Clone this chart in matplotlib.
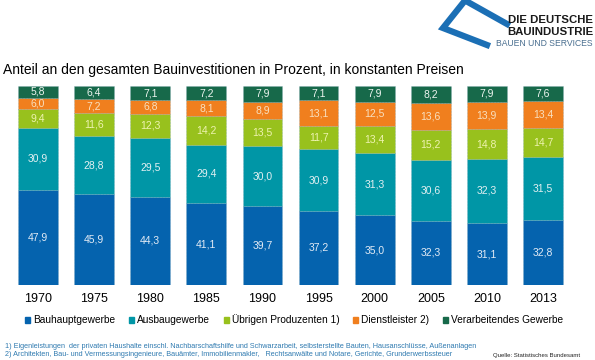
import numpy as np
import matplotlib.pyplot as plt
from matplotlib.patches import Patch

plt.rcParams['font.family'] = ['Liberation Sans', 'DejaVu Sans']

# Daten
years = ['1970', '1975', '1980', '1985', '1990', '1995', '2000', '2005', '2010', '2013']
series_names = ['Bauhauptgewerbe', 'Ausbaugewerbe', 'Übrigen Produzenten 1)',
                'Dienstleister 2)', 'Verarbeitendes Gewerbe']
bauhaupt = [47.9, 45.9, 44.3, 41.1, 39.7, 37.2, 35.0, 32.3, 31.1, 32.8]
ausbau = [30.9, 28.8, 29.5, 29.4, 30.0, 30.9, 31.3, 30.6, 32.3, 31.5]
uebrige = [9.4, 11.6, 12.3, 14.2, 13.5, 11.7, 13.4, 15.2, 14.8, 14.7]
dienst = [6.0, 7.2, 6.8, 8.1, 8.9, 13.1, 12.5, 13.6, 13.9, 13.4]
verarb = [5.8, 6.4, 7.1, 7.2, 7.9, 7.1, 7.9, 8.2, 7.9, 7.6]

colors = ['#0563ae', '#0096a6', '#98c11d', '#f07f1e', '#17694a']
text_colors = ['#e3ebf5', '#e3f0f2', '#eef3b0', '#f8e0c0', '#eef5f0']

fig = plt.figure(figsize=(5.95, 3.6), dpi=100)
ax = fig.add_axes([10 / 595, 75 / 360, 561 / 595, 199 / 360])

x = np.arange(len(years))
bottom = np.zeros(len(years))
for name, vals, col, tcol in zip(series_names, [bauhaupt, ausbau, uebrige, dienst, verarb],
                                 colors, text_colors):
    vals = np.array(vals)
    ax.bar(x, vals, 0.71, bottom=bottom, color=col, edgecolor='#7fa8b8',
           linewidth=0.4, linestyle=':')
    for xi, b, v in zip(x, bottom, vals):
        ax.text(xi, b + v / 2, f'{v:.1f}'.replace('.', ','), ha='center', va='center',
                fontsize=7.5, color=tcol)
    bottom += vals

ax.set_xlim(-0.5, len(years) - 0.5)
ax.set_ylim(0, 100)
ax.set_xticks(x)
ax.set_xticklabels(years, fontsize=9)
ax.tick_params(axis='x', length=0, pad=6)
ax.set_yticks([])
for s in ax.spines.values():
    s.set_visible(False)

fig.text(3 / 595, 1 - 70 / 360, 'Anteil an den gesamten Bauinvestitionen in Prozent, in konstanten Preisen',
         fontsize=10, va='center', ha='left')

handles = [Patch(color=c, label=n) for c, n in zip(colors, series_names)]
fig.legend(handles=handles, loc='center', bbox_to_anchor=(294 / 595, 1 - 320 / 360), ncol=5,
           frameon=False, fontsize=7.3, handlelength=0.5, handleheight=0.5,
           handletextpad=0.3, columnspacing=1.35)

fn_color = '#2f7ab0'
fig.text(5 / 595, 1 - 346 / 360,
         '1) Eigenleistungen  der privaten Haushalte einschl. Nachbarschaftshilfe und Schwarzarbeit, '
         'selbsterstellte Bauten, Hausanschlüsse, Außenanlagen',
         fontsize=5.2, color=fn_color, va='center')
fig.text(5 / 595, 1 - 354 / 360,
         '2) Architekten, Bau- und Vermessungsingenieure, Bauämter, Immobilienmakler,   '
         'Rechtsanwälte und Notare, Gerichte, Grunderwerbssteuer',
         fontsize=5.2, color=fn_color, va='center')
fig.text(493 / 595, 1 - 355 / 360, 'Quelle: Statistisches Bundesamt', fontsize=4.3,
         color='#222222', va='center')

# Logo
logo_blue = '#1b6fb5'
fig.add_artist(plt.Line2D([466 / 595, 507 / 595], [1 - 1 / 360, 1 - 24 / 360],
                          color=logo_blue, lw=4.5, transform=fig.transFigure))
fig.add_artist(plt.Line2D([463 / 595, 443 / 595, 487 / 595],
                          [1 - 3 / 360, 1 - 28 / 360, 1 - 45 / 360],
                          color=logo_blue, lw=4.5, transform=fig.transFigure,
                          solid_joinstyle='miter'))
fig.text(593 / 595, 1 - 20 / 360, 'DIE DEUTSCHE', fontsize=8.2, fontweight='bold',
         color='#1a1a1a', ha='right', va='center')
fig.text(593 / 595, 1 - 32 / 360, 'BAUINDUSTRIE', fontsize=8.2, fontweight='bold',
         color='#1a1a1a', ha='right', va='center')
fig.text(593 / 595, 1 - 44 / 360, 'BAUEN UND SERVICES', fontsize=6.2,
         color='#4a6f90', ha='right', va='center')

fig.savefig('out.png', dpi=100)
